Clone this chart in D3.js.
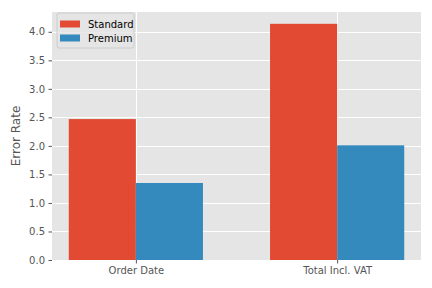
<!DOCTYPE html>
<html>
<head>
<meta charset="utf-8">
<script src="https://cdn.jsdelivr.net/npm/d3@7"></script>
<style>
  body { margin: 0; background: #fff; }
  text { font-family: "DejaVu Sans", sans-serif; }
</style>
</head>
<body>
<div id="viz"></div>
<script>
// data
var categories = ["Order Date", "Total Incl. VAT"];
var seriesNames = ["Standard", "Premium"];
var standardValues = [2.47, 4.14];
var premiumValues = [1.35, 2.01];
var yTicks = [0, 0.5, 1, 1.5, 2, 2.5, 3, 3.5, 4];
var colors = ["#E24A33", "#348ABD"];

var width = 432, height = 288;
var margin = { top: 12, right: 11, bottom: 28, left: 52 };
var plotW = width - margin.left - margin.right,
    plotH = height - margin.top - margin.bottom;

var barW = 1 / 3;
var series = [standardValues, premiumValues];

var svg = d3.select("#viz")
  .append("svg")
  .attr("width", width)
  .attr("height", height);

var g = svg.append("g")
  .attr("transform", "translate(" + margin.left + "," + margin.top + ")");

// matplotlib style limits: data span plus 5% margins
var xMin = -barW, xMax = (categories.length - 1) + barW;
var xPad = (xMax - xMin) * 0.05;
var x = d3.scaleLinear()
  .domain([xMin - xPad, xMax + xPad])
  .range([0, plotW]);

var yMax = d3.max(standardValues.concat(premiumValues)) * 1.05;
var y = d3.scaleLinear()
  .domain([0, yMax])
  .range([plotH, 0]);

// background
g.append("rect")
  .attr("width", plotW)
  .attr("height", plotH)
  .attr("fill", "#E5E5E5");

// grid
g.selectAll(".hgrid")
  .data(yTicks)
  .enter()
  .append("line")
  .attr("x1", 0)
  .attr("x2", plotW)
  .attr("y1", function(d) { return Math.round(y(d)) + 0.5; })
  .attr("y2", function(d) { return Math.round(y(d)) + 0.5; })
  .attr("stroke", "#fff")
  .attr("stroke-width", 1);

g.selectAll(".vgrid")
  .data(categories)
  .enter()
  .append("line")
  .attr("x1", function(d, i) { return Math.round(x(i)) + 0.5; })
  .attr("x2", function(d, i) { return Math.round(x(i)) + 0.5; })
  .attr("y1", 0)
  .attr("y2", plotH)
  .attr("stroke", "#fff")
  .attr("stroke-width", 1);

// bars
series.forEach(function(vals, s) {
  g.selectAll(".bar" + s)
    .data(vals)
    .enter()
    .append("rect")
    .attr("x", function(d, i) { return x(i - barW + s * barW); })
    .attr("width", x(barW) - x(0))
    .attr("y", function(d) { return y(d); })
    .attr("height", function(d) { return plotH - y(d); })
    .attr("fill", colors[s]);
});

// y axis
var yAxis = g.append("g")
  .call(d3.axisLeft(y)
    .tickValues(yTicks)
    .tickFormat(d3.format(".1f"))
    .tickSize(3.5)
    .tickPadding(3.5));

// x axis
var xAxis = g.append("g")
  .attr("transform", "translate(0," + plotH + ")")
  .call(d3.axisBottom(x)
    .tickValues(d3.range(categories.length))
    .tickFormat(function(d) { return categories[d]; })
    .tickSize(3.5)
    .tickPadding(3.5));

[xAxis, yAxis].forEach(function(ax) {
  ax.select(".domain").remove();
  ax.selectAll(".tick line").attr("stroke", "#555555");
  ax.selectAll(".tick text")
    .attr("fill", "#555555")
    .style("font-size", "10px")
    .style("font-family", "DejaVu Sans, sans-serif");
});

// y label
svg.append("text")
  .attr("transform", "translate(20," + (margin.top + plotH / 2) + ") rotate(-90)")
  .attr("text-anchor", "middle")
  .attr("fill", "#555555")
  .style("font-size", "12px")
  .text("Error Rate");

// legend
var legend = g.append("g")
  .attr("transform", "translate(5,1)");

legend.append("rect")
  .attr("width", 77)
  .attr("height", 35)
  .attr("rx", 2)
  .attr("fill", "#E5E5E5")
  .attr("fill-opacity", 0.8)
  .attr("stroke", "#CCCCCC")
  .attr("stroke-width", 1);

var items = legend.selectAll(".item")
  .data(seriesNames)
  .enter()
  .append("g")
  .attr("transform", function(d, i) { return "translate(0," + (i * 14) + ")"; });

items.append("rect")
  .attr("x", 3)
  .attr("y", 7.5)
  .attr("width", 20)
  .attr("height", 7)
  .attr("fill", function(d, i) { return colors[i]; });

items.append("text")
  .attr("x", 31)
  .attr("y", 15)
  .attr("fill", "#000")
  .style("font-size", "10px")
  .text(function(d) { return d; });
</script>
</body>
</html>
